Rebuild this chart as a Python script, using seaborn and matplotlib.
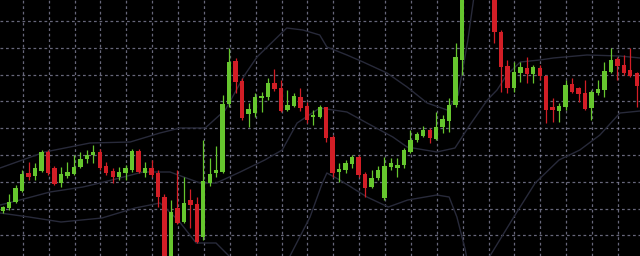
import numpy as np
import pandas as pd
import matplotlib
matplotlib.use("Agg")
import matplotlib.pyplot as plt
import seaborn as sns

# ---- candle data (price units) ----
opens = [45, 48, 54, 65, 83, 80, 85, 104, 88, 73, 80, 82, 89, 97, 101, 104, 90, 85, 79, 83,
         86, 105, 83, 88, 83, 59, -6, 48, 34, 56, 52, 19, 73, 83, 84, 152, 195, 175, 142, 143,
         158, 159, 173, 168, 146, 150, 159, 150, 139, 139, 149, 119, 84, 86, 92, 99, 82, 69, 78, 58,
         89, 88, 91, 104, 116, 120, 126, 117, 129, 135, 151, 196, 276, 292, 280, 300, 271, 224, 190, 168,
         183, 188, 182, 188, 180, 149, 145, 149, 172, 168, 163, 148, 163, 166, 184, 197, 191, 186, 183]
highs = [50, 62, 71, 86, 94, 93, 106, 106, 90, 89, 94, 101, 104, 106, 111, 107, 94, 88, 89, 91,
         107, 107, 94, 96, 86, 62, 56, 86, 79, 67, 59, 116, 98, 110, 161, 208, 198, 178, 153, 163,
         164, 178, 187, 176, 166, 163, 168, 154, 146, 151, 149, 121, 93, 96, 101, 101, 84, 86, 90, 99,
         98, 98, 108, 126, 124, 130, 128, 144, 141, 158, 213, 281, 300, 305, 310, 312, 276, 226, 196, 194,
         194, 199, 191, 191, 181, 158, 153, 176, 178, 169, 176, 166, 176, 194, 208, 199, 201, 208, 184]
lows = [43, 46, 53, 64, 76, 76, 84, 81, 71, 69, 78, 81, 88, 93, 93, 86, 81, 73, 76, 76,
        84, 83, 79, 79, 49, -9, -9, 32, 33, 28, 13, 16, 70, 79, 83, 149, 163, 136, 129, 139,
        144, 156, 165, 144, 145, 149, 145, 133, 131, 138, 114, 79, 74, 83, 88, 79, 59, 68, 76, 56,
        86, 79, 88, 103, 114, 119, 113, 116, 123, 124, 149, 181, 270, 275, 272, 262, 213, 164, 163, 164,
        174, 173, 173, 176, 133, 134, 134, 146, 163, 154, 146, 136, 161, 159, 183, 176, 181, 179, 149]
closes = [49, 54, 68, 82, 79, 88, 104, 83, 72, 82, 84, 89, 97, 101, 104, 88, 83, 79, 84, 88,
          105, 84, 88, 81, 59, -6, 44, 33, 53, 51, 14, 75, 82, 86, 152, 194, 174, 138, 147, 159,
          160, 173, 167, 145, 151, 160, 148, 136, 141, 149, 118, 83, 87, 93, 99, 81, 68, 78, 86, 90,
          93, 91, 106, 116, 122, 126, 118, 129, 137, 151, 199, 276, 292, 280, 300, 268, 224, 189, 168, 184,
          189, 182, 189, 180, 146, 146, 150, 171, 164, 162, 147, 164, 167, 185, 196, 190, 183, 180, 170]

# ---- band data (candle index, price) ----
upper_x = [-0.42, 6.5, 13.5, 19.7, 24.3, 27.4, 31.3, 34.4, 37.4, 39.3, 43.9, 46.4, 49.0, 50.1,
           53.2, 55.7, 59.4, 62.5, 65.6, 68.7, 70.4, 71.9, 73.2]
upper_y = [88, 104, 113, 114, 123, 128, 128, 146, 181, 199, 228, 226, 221, 209,
           201, 194, 183, 169, 153, 146, 161, 216, 276]
middle_x = [-0.42, 2.67, 7.31, 12.41, 15.04, 21.68, 25.86, 30.5, 33.0, 36.7, 40.5, 43.2, 45.5, 49.0,
            53.2, 56.3, 60.3, 62.5, 67.1, 69.9, 72.2, 74.9, 76.4, 77.9, 80.0, 83.0, 85.1, 90.3, 95.4, 98.5]
middle_y = [51, 56, 64, 69, 73, 84, 84, 73, 73, 84, 96, 106, 133, 148,
            144, 133, 119, 109, 104, 108, 131, 156, 166, 181, 194, 196, 198, 201, 200, 198]
lower_x = [-0.42, 4.07, 9.01, 15.35, 20.45, 24.31, 27.1, 29.9, 32.97, 34.98, 36.7, 43.6, 44.4, 47.5,
           49.4, 50.1, 52.1, 56.3, 59.6, 62.6, 67.1, 69.0, 70.2, 71.5, 72.2, 74.7, 75.3, 79.0, 82.3,
           85.98, 89.2, 92.3, 95.4, 98.5]
lower_y = [43, 39, 34, 38, 48, 53, 36, 13, 13, 0, -19, -19, 0, 39,
           73, 83, 76, 59, 49, 56, 61, 59, 39, 6, -19, -19, 0, 39, 73,
           96, 106, 121, 143, 145]

df = pd.DataFrame({"open": opens, "high": highs, "low": lows, "close": closes})
df["idx"] = np.arange(len(df))
df["up"] = df["close"] >= df["open"]

GREEN = "#66c62e"
RED = "#d21e26"
BAND = "#282a3a"
GRID = "#8a8aa4"

sns.set_theme(style="dark", rc={"axes.facecolor": "black", "figure.facecolor": "black"})
fig = plt.figure(figsize=(6.4, 2.56), dpi=100)
ax = fig.add_axes([0, 0, 1, 1])
ax.set_facecolor("black")

# bands
for bx, by in [(upper_x, upper_y), (middle_x, middle_y), (lower_x, lower_y)]:
    sns.lineplot(x=bx, y=by, ax=ax, color=BAND, linewidth=1.0, estimator=None, sort=False)

# wicks
colors = np.where(df["up"], GREEN, RED)
ax.vlines(df["idx"], df["low"], df["high"], colors=colors, linewidth=0.9, zorder=3)
# bodies
body_bottom = np.minimum(df["open"], df["close"])
body_h = np.maximum(np.abs(df["close"] - df["open"]), 2.0)
ax.bar(df["idx"], body_h, bottom=body_bottom, width=0.68, color=colors, linewidth=0, zorder=4)

ax.set_xlim(-0.42, 98.5)
ax.set_ylim(0, 256)

# grid
ax.set_xticks(np.arange(3.1, 99, 4.0))
ax.set_yticks([256 - (21 + 26.8 * k) for k in range(9)])
ax.tick_params(left=False, bottom=False, labelleft=False, labelbottom=False)
ax.grid(True, color=GRID, linestyle=(0, (2.2, 2.2)), linewidth=0.9, alpha=0.75)
ax.set_axisbelow(True)
for s in ax.spines.values():
    s.set_visible(False)
if ax.get_legend():
    ax.get_legend().remove()

fig.savefig("out.png", dpi=100, facecolor="black")
